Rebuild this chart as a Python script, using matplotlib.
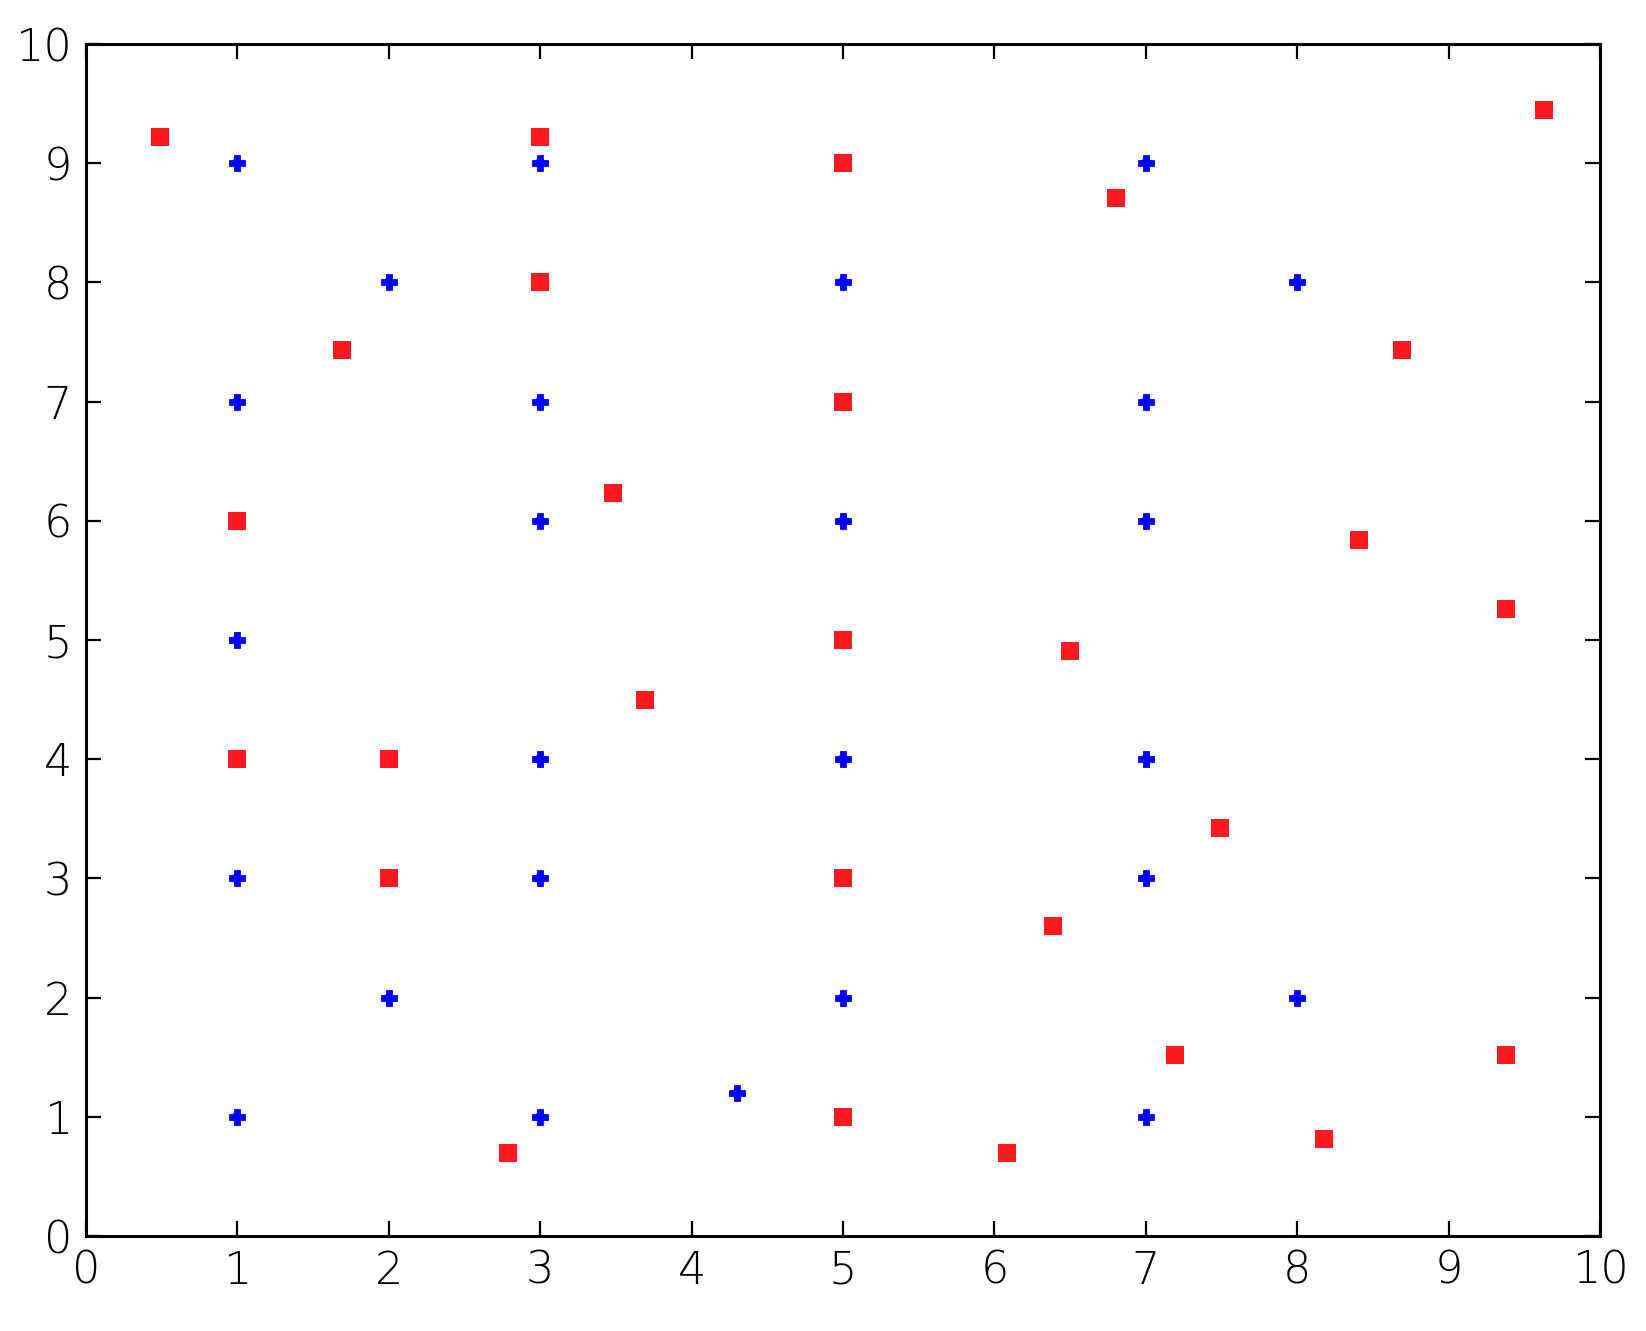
import matplotlib
matplotlib.use("Agg")
import matplotlib.pyplot as plt

blue_x = [1, 1, 1, 1, 1, 2, 2, 3, 3, 3, 3, 3, 3, 4.3, 5, 5, 5, 5, 7, 7, 7, 7, 7, 7, 8, 8]
blue_y = [9, 7, 5, 3, 1, 8, 2, 9, 7, 6, 4, 3, 1, 1.2, 8, 6, 4, 2, 9, 7, 6, 4, 3, 1, 8, 2]

red_x = [0.49, 1, 1, 1.69, 2, 2, 2.79, 3, 3, 3.48, 3.69, 5, 5, 5, 5, 5, 6.08, 6.39, 6.5, 6.8,
         7.19, 7.49, 8.18, 8.41, 8.69, 9.38, 9.38, 9.63]
red_y = [9.22, 6, 4, 7.43, 4, 3, 0.7, 9.22, 8, 6.23, 4.5, 9, 7, 5, 3, 1, 0.7, 2.6, 4.91, 8.71,
         1.52, 3.42, 0.81, 5.84, 7.43, 5.26, 1.52, 9.45]

xticks = list(range(0, 11))
yticks = list(range(0, 11))

fig = plt.figure(figsize=(16.46, 13.31), dpi=100)
ax = fig.add_axes([86 / 1646, 1 - 1236 / 1331, (1600 - 86) / 1646, (1236 - 44) / 1331])

ax.plot(blue_x, blue_y, linestyle='none', marker='P', markersize=11.5, color='#0000ff',
        markeredgewidth=0.6, markeredgecolor='#0000ff')
ax.plot(blue_x, blue_y, linestyle='none', marker='D', markersize=7, color='#0000ff',
        markeredgewidth=0)
ax.plot(red_x, red_y, linestyle='none', marker='s', markersize=13.5, color='#ff1a22',
        markeredgewidth=0)

ax.set_xlim(0, 10)
ax.set_ylim(0, 10)
ax.set_xticks(xticks)
ax.set_yticks(yticks)
ax.set_xticklabels([str(t) for t in xticks])
ax.set_yticklabels([str(t) for t in yticks])
ax.tick_params(direction='in', length=11, width=1.6, top=True, right=True,
               labelsize=32, pad=10)
for lab in ax.get_xticklabels() + ax.get_yticklabels():
    lab.set_fontweight('light')
for s in ax.spines.values():
    s.set_linewidth(2.2)

fig.savefig("out.png", dpi=100)
